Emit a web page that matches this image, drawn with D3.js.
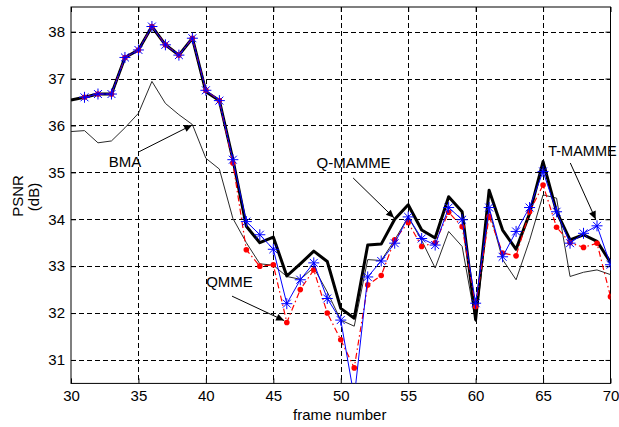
<!DOCTYPE html>
<html>
<head>
<meta charset="utf-8">
<script src="https://cdn.jsdelivr.net/npm/d3@7"></script>
<style>
  html, body { margin: 0; padding: 0; background: #fff; }
  svg { display: block; }
  text { font-family: "Liberation Sans", Arial, Helvetica, sans-serif; fill: #000; }
</style>
</head>
<body>
<svg id="chart" width="619" height="427"></svg>
<script>
// ---- data ----
const frames = [30,31,32,33,34,35,36,37,38,39,40,41,42,43,44,45,46,47,48,49,50,
                51,52,53,54,55,56,57,58,59,60,61,62,63,64,65,66,67,68,69,70];
const bma = [35.87,35.89,35.63,35.67,35.95,36.26,36.94,36.47,36.23,36.02,35.30,
             35.07,34.02,33.50,33.05,33.02,32.78,32.72,32.97,32.45,31.85,
             31.72,33.14,33.12,33.56,34.05,33.55,32.96,33.74,33.42,31.82,
             34.20,33.14,32.71,33.55,34.52,34.45,32.78,32.87,32.92,32.82];
const qmamme = [36.54,36.60,36.67,36.67,37.45,37.61,38.11,37.72,37.50,37.86,36.72,
                36.53,35.28,33.85,33.50,33.62,32.79,33.05,33.32,33.10,32.10,
                31.89,33.45,33.47,34.00,34.31,33.77,33.60,34.48,34.16,31.86,
                34.62,33.77,33.36,34.12,35.23,34.16,33.56,33.67,33.53,33.08];
const tmamme = [null,36.60,36.67,36.67,37.45,37.61,38.11,37.72,37.50,37.86,36.75,
                36.53,35.27,33.95,33.67,33.36,32.20,32.71,33.07,32.31,31.85,
                30.20,32.77,33.11,33.49,34.05,33.59,33.45,34.25,33.99,32.21,
                34.25,33.20,33.74,34.25,35.02,34.16,33.49,33.70,33.86,33.03];
const qmme = [null,36.60,36.67,36.67,37.45,37.61,38.11,37.72,37.50,37.86,36.75,
              36.53,35.20,33.35,33.00,33.03,31.80,32.50,32.92,32.00,31.43,
              30.83,32.60,32.80,33.56,33.93,33.42,33.50,34.15,33.84,32.14,
              34.06,33.28,33.22,34.16,34.73,33.83,33.50,33.40,33.49,32.35];
const xTicks = [30,35,40,45,50,55,60,65,70];
const yTicks = [31,32,33,34,35,36,37,38];
// annotations: [label, textFrame, textValue, tailFrame, tailValue, tipFrame, tipValue]
const annotations = [
  ["BMA",     32.80, 35.12, 35.05, 35.44, 38.98, 36.01],
  ["QMME",    40.02, 32.56, 41.94, 32.36, 45.80, 31.84],
  ["Q-MAMME", 48.20, 35.09, 50.92, 34.88, 53.95, 34.03],
  ["T-MAMME", 65.38, 35.35, 67.02, 35.20, 68.90, 34.00]
];

// ---- layout ----
const L = 71, R = 610.5, T = 7, B = 383.4;
const svg = d3.select("#chart");
const x = d3.scaleLinear().domain([30, 70]).range([L, R]);
const y = d3.scaleLinear().domain([30.5, 38.526]).range([B, T]);

svg.append("defs").append("clipPath").attr("id", "clip")
  .append("rect").attr("x", L).attr("y", T).attr("width", R - L).attr("height", B - T);
svg.select("defs").append("marker")
  .attr("id", "arrow").attr("viewBox", "0 0 10 10").attr("refX", 10).attr("refY", 5)
  .attr("markerWidth", 10).attr("markerHeight", 8).attr("markerUnits", "userSpaceOnUse")
  .attr("orient", "auto")
  .append("path").attr("d", "M0,0.5 L10,5 L0,9.5 Z").attr("fill", "#000");

// grid
const grid = svg.append("g").attr("stroke", "#000").attr("stroke-width", 1)
  .attr("stroke-dasharray", "5,3").attr("shape-rendering", "crispEdges");
xTicks.filter(t => t > 30 && t < 70).forEach(t => {
  grid.append("line").attr("x1", Math.round(x(t)) + 0.5).attr("x2", Math.round(x(t)) + 0.5)
    .attr("y1", T).attr("y2", B);
});
yTicks.forEach(t => {
  grid.append("line").attr("y1", Math.round(y(t)) + 0.5).attr("y2", Math.round(y(t)) + 0.5)
    .attr("x1", L).attr("x2", R);
});

// axes
const xAxis = d3.axisBottom(x).tickValues(xTicks).tickSize(-5).tickPadding(7);
const yAxis = d3.axisLeft(y).tickValues(yTicks).tickSize(-5).tickPadding(6);
const gx = svg.append("g").attr("transform", `translate(0,${B})`).call(xAxis);
const gy = svg.append("g").attr("transform", `translate(${L},0)`).call(yAxis);
[gx, gy].forEach(g => {
  g.select(".domain").remove();
  g.selectAll("line").attr("stroke", "#000");
  g.selectAll("text").style("font-size", "15px").attr("fill", "#000");
});
gx.selectAll("text").attr("dy", "0.71em");
// top/right ticks
svg.append("g").attr("transform", `translate(0,${T})`)
  .call(d3.axisTop(x).tickValues(xTicks).tickSize(-5).tickFormat(""))
  .call(g => g.select(".domain").remove());
svg.append("g").attr("transform", `translate(${R},0)`)
  .call(d3.axisRight(y).tickValues(yTicks).tickSize(-5).tickFormat(""))
  .call(g => g.select(".domain").remove());

// box
svg.append("rect").attr("x", L).attr("y", T).attr("width", R - L).attr("height", B - T)
  .attr("fill", "none").attr("stroke", "#000").attr("stroke-width", 1);

// series
const plot = svg.append("g").attr("clip-path", "url(#clip)");
const lineOf = vals => d3.line()
  .defined((d, i) => vals[i] != null)
  .x((d, i) => x(frames[i])).y((d, i) => y(vals[i]))(vals);

plot.append("path").attr("d", lineOf(bma)).attr("fill", "none")
  .attr("stroke", "#2a2a2a").attr("stroke-width", 1);
plot.append("path").attr("d", lineOf(qmamme)).attr("fill", "none")
  .attr("stroke", "#000").attr("stroke-width", 3).attr("stroke-linejoin", "round");
plot.append("path").attr("d", lineOf(qmme)).attr("fill", "none")
  .attr("stroke", "#ff0000").attr("stroke-width", 1.2).attr("stroke-dasharray", "6,3,1.5,3");
plot.append("g").selectAll("circle")
  .data(frames.map((f, i) => [f, qmme[i]]).filter(d => d[1] != null))
  .join("circle").attr("cx", d => x(d[0])).attr("cy", d => y(d[1])).attr("r", 2.8)
  .attr("fill", "#ff0000");
plot.append("path").attr("d", lineOf(tmamme)).attr("fill", "none")
  .attr("stroke", "#0000ff").attr("stroke-width", 1);
const r = 5.5, a = r * 0.72;
const star = `M${-r},0L${r},0M0,${-r}L0,${r}M${-a},${-a}L${a},${a}M${-a},${a}L${a},${-a}`;
plot.append("g").selectAll("path")
  .data(frames.map((f, i) => [f, tmamme[i]]).filter(d => d[1] != null))
  .join("path").attr("d", star)
  .attr("transform", d => `translate(${x(d[0])},${y(d[1])})`)
  .attr("stroke", "#0000ff").attr("stroke-width", 1).attr("fill", "none");

// annotations
const ann = svg.append("g");
annotations.forEach(([label, tf, tv, af, av, bf, bv]) => {
  ann.append("text").attr("x", x(tf)).attr("y", y(tv))
    .style("font-size", label === "T-MAMME" ? "14.5px" : "15px").text(label);
  ann.append("line").attr("x1", x(af)).attr("y1", y(av)).attr("x2", x(bf)).attr("y2", y(bv))
    .attr("stroke", "#000").attr("stroke-width", 1).attr("marker-end", "url(#arrow)");
});

// axis labels
svg.append("text").attr("x", (L + R) / 2 - 1).attr("y", 420).attr("text-anchor", "middle")
  .style("font-size", "15px").text("frame number");
svg.append("text").attr("transform", "translate(23,196) rotate(-90)").attr("text-anchor", "middle")
  .style("font-size", "15px").text("PSNR");
svg.append("text").attr("transform", "translate(39,197) rotate(-90)").attr("text-anchor", "middle")
  .style("font-size", "15px").text("(dB)");
</script>
</body>
</html>
